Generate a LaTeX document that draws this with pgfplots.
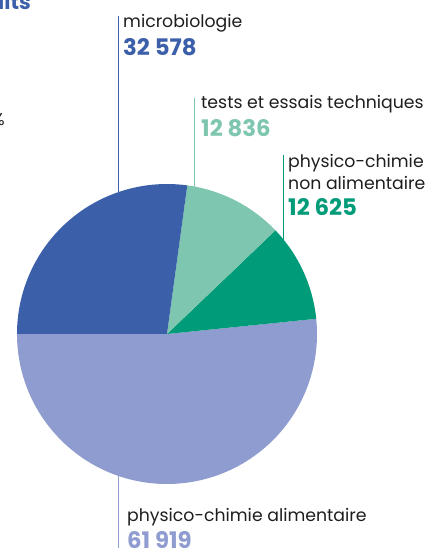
\documentclass[border=0pt]{standalone}
\usepackage{fontspec}
\setmainfont{Poppins}
\usepackage{pgfplots}
\pgfplotsset{compat=1.18}
\definecolor{cblue}{RGB}{60,95,170}
\definecolor{clgreen}{RGB}{126,198,176}
\definecolor{cdgreen}{RGB}{0,155,120}
\definecolor{clav}{RGB}{143,156,208}
\definecolor{ctext}{RGB}{30,30,30}
\begin{document}
\begin{tikzpicture}
% values
\def\vA{61919}% physico-chimie alimentaire
\def\vB{12625}% physico-chimie non alimentaire
\def\vC{12836}% tests et essais techniques
\def\vD{32578}% microbiologie
\pgfkeys{/pgf/fpu=true,/pgf/fpu/output format=fixed}
\pgfmathsetmacro\tot{\vA+\vB+\vC+\vD}
\pgfmathsetmacro\aA{180}
\pgfmathsetmacro\aB{\aA+\vA/\tot*360}
\pgfmathsetmacro\aC{\aB+\vB/\tot*360}
\pgfmathsetmacro\aD{\aC+\vC/\tot*360}
\pgfmathsetmacro\aE{\aD+\vD/\tot*360}
\pgfkeys{/pgf/fpu=false}
\begin{axis}[hide axis, scale only axis, width=428bp, height=548bp,
  xmin=0, xmax=428, ymin=-548, ymax=0, clip=false]
% leader lines
\draw[cblue, line width=0.8bp] (axis cs:118.5,-16) -- (axis cs:118.5,-250);
\draw[clgreen, line width=0.8bp] (axis cs:194.5,-98) -- (axis cs:194.5,-250);
\draw[cdgreen, line width=0.8bp] (axis cs:283.5,-155) -- (axis cs:283.5,-260);
\draw[clav, line width=0.8bp] (axis cs:118.5,-420) -- (axis cs:118.5,-548);
% pie
\fill[clav] (axis cs:167,-334) -- ++(\aA:150bp) arc[start angle=\aA, end angle=\aB, radius=150bp] -- cycle;
\fill[cdgreen] (axis cs:167,-334) -- ++(\aB:150bp) arc[start angle=\aB, end angle=\aC, radius=150bp] -- cycle;
\fill[clgreen] (axis cs:167,-334) -- ++(\aC:150bp) arc[start angle=\aC, end angle=\aD, radius=150bp] -- cycle;
\fill[cblue] (axis cs:167,-334) -- ++(\aD:150bp) arc[start angle=\aD, end angle=\aE, radius=150bp] -- cycle;
% labels
\tikzset{lab/.style={anchor=base west, inner sep=0pt, text=ctext, font=\fontsize{17.3bp}{19bp}\selectfont},
         num/.style={anchor=base west, inner sep=0pt, font=\fontsize{22.8bp}{25bp}\selectfont\bfseries}}
\node[lab] at (axis cs:123,-28) {microbiologie};
\node[num, text=cblue] at (axis cs:123,-56) {32 578};
\node[lab] at (axis cs:201,-109) {tests et essais techniques};
\node[num, text=clgreen] at (axis cs:201,-137) {12 836};
\node[lab] at (axis cs:288,-168) {physico-chimie};
\node[lab] at (axis cs:288,-190) {non alimentaire};
\node[num, text=cdgreen] at (axis cs:288,-216) {12 625};
\node[lab] at (axis cs:127,-522) {physico-chimie alimentaire};
\node[num, text=clav] at (axis cs:127,-549) {61 919};
% cropped fragments at the edges
\node[anchor=base east, inner sep=0pt, text=cblue, font=\fontsize{21bp}{24bp}\selectfont\bfseries] at (axis cs:31,-10) {produits};
\node[anchor=base east, inner sep=0pt, text=ctext, font=\fontsize{17.3bp}{19bp}\selectfont] at (axis cs:5,-126) {2 \%};
\end{axis}
\pgfresetboundingbox
\useasboundingbox (current axis.south west) rectangle (current axis.north east);
\end{tikzpicture}
\end{document}
